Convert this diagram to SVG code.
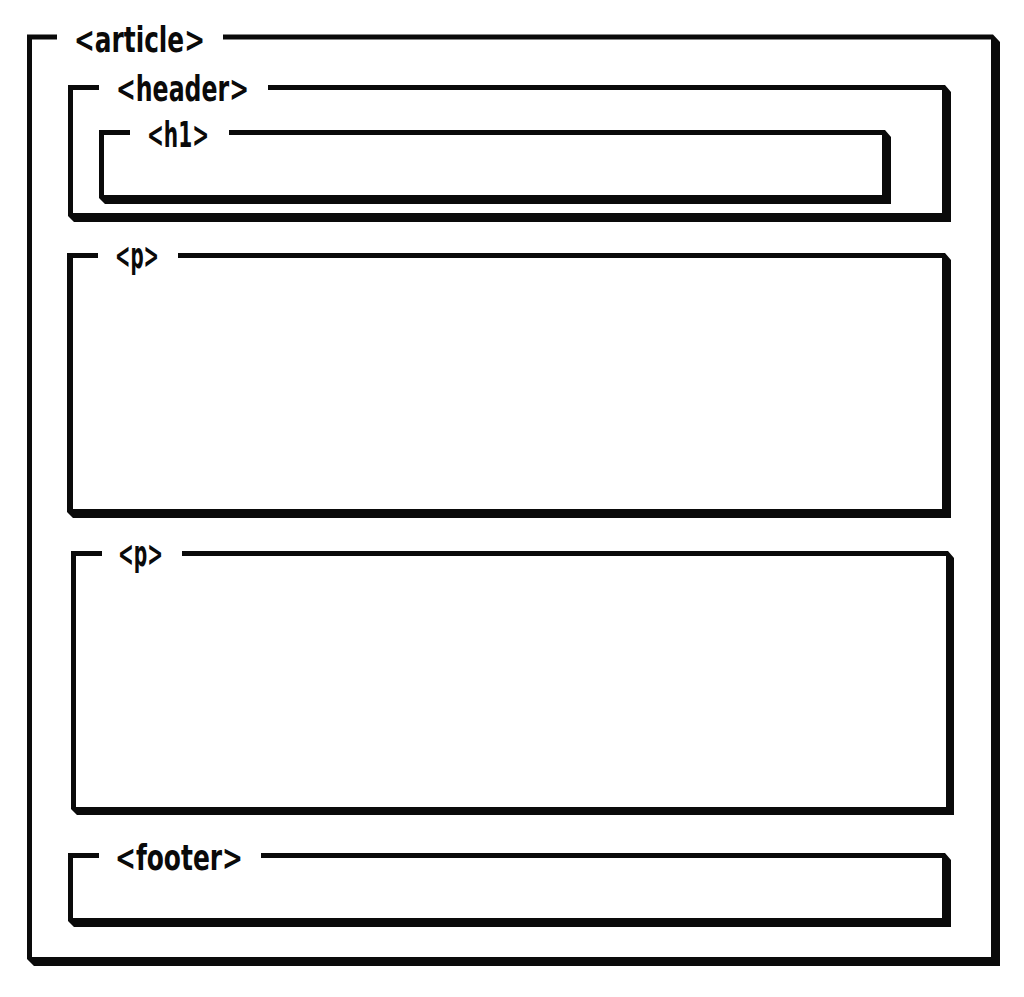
<svg xmlns="http://www.w3.org/2000/svg" width="1024" height="997" viewBox="0 0 1024 997">
<style>
.box{fill:#0a0a0a;fill-rule:evenodd;}
.gap{fill:#ffffff;}
.lbl{font-family:"DejaVu Sans Condensed","DejaVu Sans",sans-serif;font-weight:bold;font-size:35px;fill:#0a0a0a;}
</style>
<rect x="0" y="0" width="1024" height="997" fill="#ffffff"/>
<g id="article">
<path class="box" d="M27 34.5 H993 L1000 42 V966 H34 L27 959 Z M32 39.5 V957 H991 V39.5 Z"/>
<rect class="gap" x="57" y="30" width="166" height="14"/>
<text class="lbl" x="74" y="52" textLength="131" lengthAdjust="spacingAndGlyphs">&lt;article&gt;</text>
</g>
<g id="header">
<path class="box" d="M68 85 H945 L951 92 V222 H74 L68 216 Z M73 90 V213 H942 V90 Z"/>
<rect class="gap" x="99" y="80" width="169" height="14"/>
<text class="lbl" x="116" y="101" textLength="133" lengthAdjust="spacingAndGlyphs">&lt;header&gt;</text>
</g>
<g id="h1">
<path class="box" d="M99 130 H885 L891 137 V204 H105 L99 198 Z M104 135 V195 H882 V135 Z"/>
<rect class="gap" x="130" y="125" width="99" height="14"/>
<text class="lbl" x="147" y="147" textLength="62" lengthAdjust="spacingAndGlyphs">&lt;h1&gt;</text>
</g>
<g id="p1">
<path class="box" d="M67 253 H945 L951 260 V518 H73 L67 512 Z M73 258 V509 H942 V258 Z"/>
<rect class="gap" x="98" y="248" width="80" height="14"/>
<text class="lbl" x="115" y="268" textLength="44" lengthAdjust="spacingAndGlyphs">&lt;p&gt;</text>
</g>
<g id="p2">
<path class="box" d="M71 551 H948 L954 558 V815 H77 L71 809 Z M76 556 V807 H946 V556 Z"/>
<rect class="gap" x="102" y="546" width="80" height="14"/>
<text class="lbl" x="118" y="566" textLength="45" lengthAdjust="spacingAndGlyphs">&lt;p&gt;</text>
</g>
<g id="footer">
<path class="box" d="M68 853 H945 L951 860 V927 H74 L68 921 Z M73 858 V918 H942 V858 Z"/>
<rect class="gap" x="99" y="848" width="162" height="14"/>
<text class="lbl" x="115" y="870" textLength="128" lengthAdjust="spacingAndGlyphs">&lt;footer&gt;</text>
</g>
<g id="connectors"></g>
</svg>
